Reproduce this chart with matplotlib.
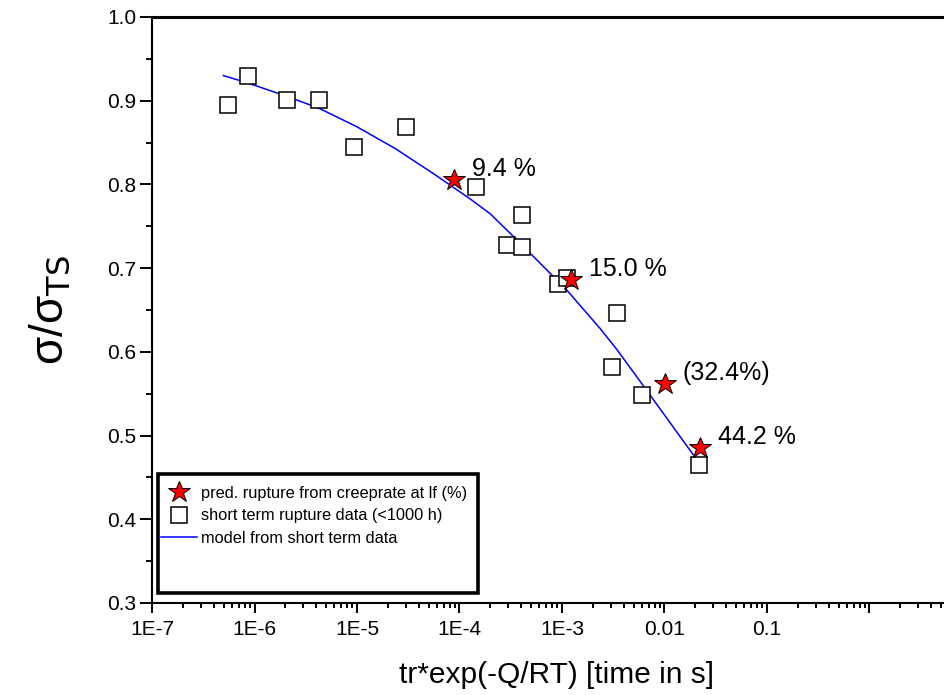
import numpy as np
import matplotlib
matplotlib.use("Agg")
import matplotlib.pyplot as plt
from matplotlib.patches import Rectangle
from matplotlib.ticker import FixedLocator, FixedFormatter, MultipleLocator, LogLocator, NullFormatter

plt.rcParams['font.family'] = ['Liberation Sans', 'DejaVu Sans']

# short term rupture data (<1000 h)
short_t = [5.5e-7, 8.6e-7, 2.07e-6, 4.26e-6, 9.35e-6, 3.0e-5, 1.45e-4, 4.07e-4,
           2.9e-4, 4.07e-4, 9.1e-4, 1.12e-3, 3.44e-3, 3.07e-3, 6.0e-3, 2.17e-2]
short_s = [0.895, 0.930, 0.901, 0.901, 0.845, 0.869, 0.797, 0.763,
           0.728, 0.725, 0.681, 0.688, 0.646, 0.582, 0.548, 0.465]

# predicted rupture from creep rate at lf
pred_t = [8.8e-5, 1.22e-3, 1.01e-2, 2.22e-2]
pred_s = [0.805, 0.686, 0.562, 0.485]
pred_lbl = ['9.4 %', '15.0 %', '(32.4%)', '44.2 %']

# model curve from short term data
model_t = [4.97e-7, 8.71e-7, 2.09e-6, 4.26e-6, 9.93e-6, 2.35e-5, 5.55e-5,
           1.26e-4, 1.99e-4, 3.48e-4, 5.25e-4, 1.11e-3, 2.35e-3, 3.42e-3,
           6.70e-3, 1.91e-2]
model_s = [0.930, 0.921, 0.905, 0.891, 0.869, 0.843, 0.813, 0.783, 0.765,
           0.736, 0.714, 0.674, 0.628, 0.603, 0.554, 0.477]

xticks = [1e-7, 1e-6, 1e-5, 1e-4, 1e-3, 1e-2, 1e-1, 1]
xtick_labels = ['1E-7', '1E-6', '1E-5', '1E-4', '1E-3', '0.01', '0.1', '']

W, H = 945, 695
fig = plt.figure(figsize=(W / 100, H / 100), dpi=100)

# axes starts at 1E-7 and runs off the right edge of the figure
x0, y_top, y_bot, dec = 152, 17, 603, 102.5
ax_w = 8 * dec
ax = fig.add_axes([x0 / W, (H - y_bot) / H, ax_w / W, (y_bot - y_top) / H])

ax.plot(model_t, model_s, color='#0000ff', lw=1.1, zorder=2,
        label='model from short term data')
ax.plot(short_t, short_s, ls='none', marker='s', ms=11.5, mfc='white',
        mec='black', mew=1.1, zorder=3, label='short term rupture data (<1000 h)')
ax.plot(pred_t, pred_s, ls='none', marker='*', ms=16.5, mfc='red',
        mec='black', mew=0.7, zorder=4, label='pred. rupture from creeprate at lf (%)')

for t, s, lbl in zip(pred_t, pred_s, pred_lbl):
    ax.annotate(lbl, (t, s), xytext=(13, 8), textcoords='offset points',
                ha='left', va='center', fontsize=18)

ax.set_xscale('log')
ax.set_xlim(1e-7, 10)
ax.set_ylim(0.3, 1.0)

ax.xaxis.set_major_locator(FixedLocator(xticks))
ax.xaxis.set_major_formatter(FixedFormatter(xtick_labels))
ax.xaxis.set_minor_locator(LogLocator(base=10, subs=np.arange(2, 10), numticks=20))
ax.xaxis.set_minor_formatter(NullFormatter())
ax.yaxis.set_major_locator(MultipleLocator(0.1))
ax.yaxis.set_minor_locator(MultipleLocator(0.05))
ax.yaxis.set_major_formatter(plt.FormatStrFormatter('%.1f'))

ax.tick_params(which='both', direction='out', width=1.4, labelsize=15, top=False, right=False)
ax.tick_params(axis='y', which='major', length=8.5, pad=3)
ax.tick_params(axis='y', which='minor', length=4.3)
ax.tick_params(axis='x', which='major', length=7.5, pad=5)
ax.tick_params(axis='x', which='minor', length=3.8)
for side in ['left', 'bottom']:
    ax.spines[side].set_linewidth(1.5)
ax.spines['top'].set_linewidth(2.2)
ax.spines['right'].set_visible(False)

ax.set_xlabel('tr*exp(-Q/RT) [time in s]', fontsize=21.5)
ax.xaxis.set_label_coords((557 - x0) / ax_w, -(675 - y_bot) / (y_bot - y_top))
ax.xaxis.label.set_va('center')
ax.set_ylabel('σ/σ$_\\mathrm{TS}$', fontsize=33)
ax.yaxis.set_label_coords(-(x0 - 50) / ax_w, 0.5)
ax.yaxis.label.set_va('center')

# legend frame drawn a bit taller than its entries
ax.add_patch(Rectangle((158 / W, (H - 593) / H), 320 / W, 119 / H,
                       transform=fig.transFigure, facecolor='white',
                       edgecolor='black', lw=2.6, zorder=5, clip_on=False))
handles, labels = ax.get_legend_handles_labels()
leg = ax.legend(handles[::-1], labels[::-1], loc='upper left',
                bbox_to_anchor=(161 / W, (H - 486) / H), bbox_transform=fig.transFigure,
                frameon=False, fontsize=11.8, handlelength=2.2, handletextpad=0.25,
                labelspacing=0.45, borderaxespad=0, borderpad=0)
leg.set_zorder(6)

fig.savefig('out.png', dpi=100)
